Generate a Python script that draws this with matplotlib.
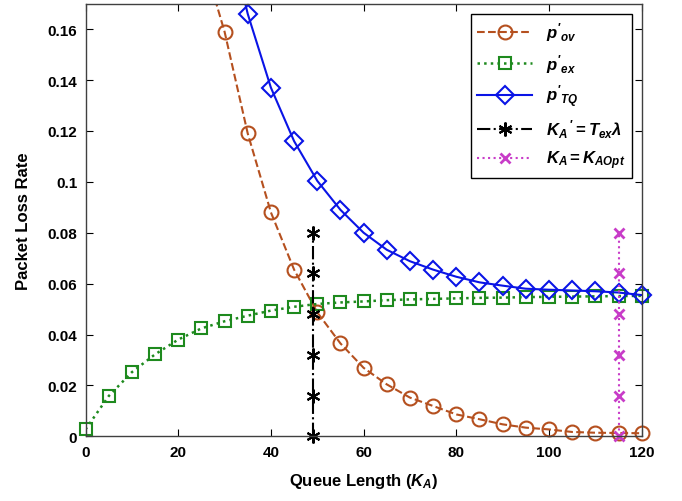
"""
Packet loss rate versus queue length K_A, with the two reference
queue lengths K_A' = T_ex*lambda and K_A = K_AOpt marked as vertical lines.
"""

# Import libraries:
import numpy as np
import matplotlib
matplotlib.use('Agg')
import matplotlib.pyplot as plt
from matplotlib.ticker import FormatStrFormatter

# Fonts (bold Arial-like, MATLAB look):
plt.rcParams['font.family'] = ['Liberation Sans', 'DejaVu Sans']
plt.rcParams['font.weight'] = 'bold'
plt.rcParams['mathtext.fontset'] = 'custom'
plt.rcParams['mathtext.rm'] = 'Liberation Sans:bold'
plt.rcParams['mathtext.it'] = 'Liberation Sans:italic:bold'
plt.rcParams['mathtext.bf'] = 'Liberation Sans:bold'

# Data:
K = [25, 30, 35, 40, 45, 50, 55, 60, 65, 70, 75, 80, 85, 90, 95, 100,
     105, 110, 115, 120]
p_ov = [0.190, 0.159, 0.119, 0.088, 0.0655, 0.0487, 0.0365, 0.0269,
        0.0204, 0.0152, 0.0119, 0.0086, 0.0067, 0.0047, 0.0034, 0.0027,
        0.0017, 0.0014, 0.0013, 0.0012]

K_ex = list(range(0, 125, 5))
p_ex = [0.0027, 0.0158, 0.0252, 0.0322, 0.0380, 0.0424, 0.0452, 0.0474,
        0.0494, 0.0509, 0.0520, 0.0526, 0.0530, 0.0535, 0.0538, 0.0540,
        0.0542, 0.0544, 0.0545, 0.0547, 0.0548, 0.0549, 0.0550, 0.0551,
        0.0552]

K_tq = [30, 35, 40, 45, 50, 55, 60, 65, 70, 75, 80, 85, 90, 95, 100,
        105, 110, 115, 120]
p_tq = [0.204, 0.166, 0.137, 0.116, 0.1004, 0.089, 0.080, 0.0733, 0.0688,
        0.0655, 0.0627, 0.0605, 0.0592, 0.0580, 0.0576, 0.0573, 0.0570,
        0.0565, 0.0555]

# Vertical marker lines:
K_ex_lambda = 49
K_opt = 115
v_levels = [0, 0.016, 0.032, 0.048, 0.064, 0.08]

# Colours:
c_ov = '#b5501f'
c_ex = '#1e8a1e'
c_tq = '#0a14e6'
c_opt = '#c83cc8'

y_top = 0.17

fig = plt.figure(figsize=(6.82, 5.02), dpi=100)
ax = fig.add_axes([0.1254, 0.1289, 0.8155, 0.8617])


def curve(xs, ys, ls, mk, col, ms, lw, lab):
    # line clipped to the axes, markers (inside range) drawn unclipped
    ax.plot(xs, ys, ls, color=col, linewidth=lw)
    keep = [(a, b) for a, b in zip(xs, ys) if b <= y_top]
    ax.plot([a for a, b in keep], [b for a, b in keep], linestyle='none',
            marker=mk, color=col, markersize=ms, markerfacecolor='none',
            markeredgewidth=1.5, clip_on=False)
    # legend proxy
    ax.plot([], [], ls, marker=mk, color=col, linewidth=lw, markersize=ms,
            markerfacecolor='none', markeredgewidth=1.5, label=lab)


curve(K, p_ov, '--', 'o', c_ov, 10, 1.5, r"$p'_{ov}$")
curve(K_ex, p_ex, ':', 's', c_ex, 9, 1.8, r"$p'_{ex}$")
curve(K_tq, p_tq, '-', 'D', c_tq, 9, 1.5, r"$p'_{TQ}$")

ax.plot([K_ex_lambda] * len(v_levels), v_levels, '-.', color='black',
        marker=(6, 2, 0), linewidth=1.5, markersize=10, markeredgewidth=1.5,
        clip_on=False, label=r"$K_A\,' = T_{ex}\lambda$")
ax.plot([K_opt] * len(v_levels), v_levels, ':', color=c_opt,
        marker='x', linewidth=1.5, markersize=7, markeredgewidth=2,
        clip_on=False, label=r"$K_A = K_{AOpt}$")

ax.set_xlim(0, 120)
ax.set_ylim(0, y_top)
ax.set_xticks(range(0, 121, 20))
ax.set_yticks(np.arange(0, 0.161, 0.02))
ax.yaxis.set_major_formatter(FormatStrFormatter('%g'))
ax.tick_params(direction='in', length=5, top=True, right=True,
               labelsize=11, pad=6)
for lab in ax.get_xticklabels() + ax.get_yticklabels():
    lab.set_fontweight('bold')
for s in ax.spines.values():
    s.set_color('#404040')
    s.set_linewidth(1.0)

ax.set_xlabel(r'Queue Length $(K_A)$', fontsize=12, fontweight='bold',
              labelpad=9)
ax.set_ylabel('Packet Loss Rate', fontsize=12, fontweight='bold',
              labelpad=12)

leg = ax.legend(loc='upper right', fontsize=12, handlelength=3.3,
                fancybox=False, edgecolor='black', framealpha=1,
                borderaxespad=0.6, labelspacing=0.5)
leg.get_frame().set_linewidth(1.0)

fig.savefig('out.png', dpi=100)
